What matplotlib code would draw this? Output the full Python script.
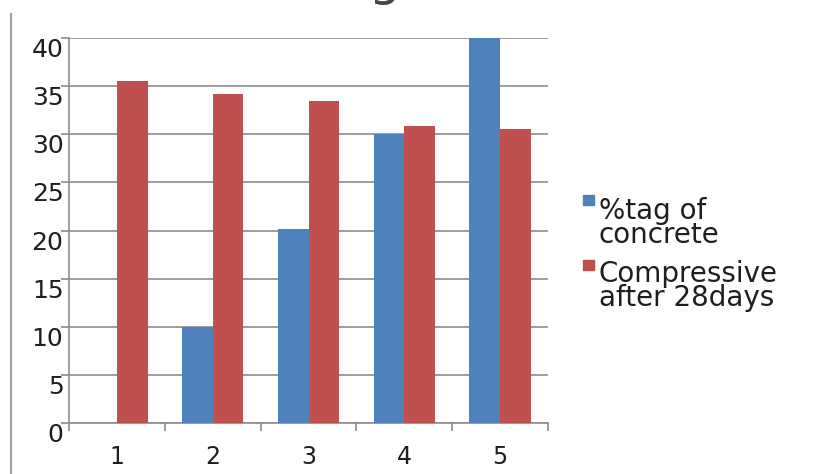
import matplotlib
matplotlib.use("Agg")
import matplotlib.pyplot as plt
from matplotlib.lines import Line2D
import numpy as np

categories = ["1", "2", "3", "4", "5"]
pct_concrete = [0, 10, 20.2, 30, 40]
compressive = [35.5, 34.2, 33.5, 30.9, 30.5]
series_names = ["%tag of\nconcrete", "Compressive\nafter 28days"]
yticks = [0, 5, 10, 15, 20, 25, 30, 35, 40]

blue = "#4F81BD"
red = "#C0504D"
grid_c = "#8C8C8C"
txt_c = "#1E1E1E"

fig = plt.figure(figsize=(8.18, 4.74), dpi=100)
ax = fig.add_axes([69/818, 1 - 423/474, (548 - 69)/818, (423 - 38)/474])

x = np.arange(len(categories)) + 0.5
w = 0.32
ax.bar(x - w/2, pct_concrete, width=w, color=blue, zorder=3, label=series_names[0])
ax.bar(x + w/2, compressive, width=w, color=red, zorder=3, label=series_names[1])

ax.set_xlim(0, len(categories))
ax.set_ylim(0, 40)
ax.set_yticks(yticks)
ax.set_yticklabels([str(v) for v in yticks], fontsize=18, family="DejaVu Sans", color=txt_c)
ax.set_xticks(x)
ax.set_xticklabels(categories, fontsize=17, family="DejaVu Sans", color=txt_c)
ax.set_xticks(np.arange(len(categories) + 1), minor=True)
ax.tick_params(axis="x", which="major", length=0, pad=16)
ax.tick_params(axis="x", which="minor", length=6, color=grid_c, width=1.2)
ax.tick_params(axis="y", length=6, color=grid_c, width=1.2, pad=-2)
for lbl in ax.get_yticklabels():
    lbl.set_va("top")

ax.grid(axis="y", color=grid_c, linewidth=1.2, zorder=0)
for s in ["top", "right"]:
    ax.spines[s].set_visible(False)
ax.spines["left"].set_color(grid_c)
ax.spines["left"].set_linewidth(1.2)
ax.spines["bottom"].set_color(grid_c)
ax.spines["bottom"].set_linewidth(1.2)

# chart-area border line on the left
fig.add_artist(Line2D([11/818, 11/818], [0, 1 - 14/474], transform=fig.transFigure,
                      color="#A0A0A0", linewidth=1.5))

# partially cropped title glyph (only its descender shows, as in the source image)
fig.text(384/818, 1 + 5/474, "g", fontsize=36, color="#444444", ha="center", va="baseline")

# legend
fig.patches.append(plt.Rectangle((583/818, 1 - 205/474), 11/818, 10/474, transform=fig.transFigure,
                                 color=blue, figure=fig))
fig.text(599/818, 1 - 197/474, series_names[0], fontsize=20, va="top", ha="left",
         color=txt_c, linespacing=0.8)
fig.patches.append(plt.Rectangle((583/818, 1 - 270/474), 11/818, 10/474, transform=fig.transFigure,
                                 color=red, figure=fig))
fig.text(599/818, 1 - 260/474, series_names[1], fontsize=20, va="top", ha="left",
         color=txt_c, linespacing=0.8)

fig.savefig("out.png", dpi=100)
